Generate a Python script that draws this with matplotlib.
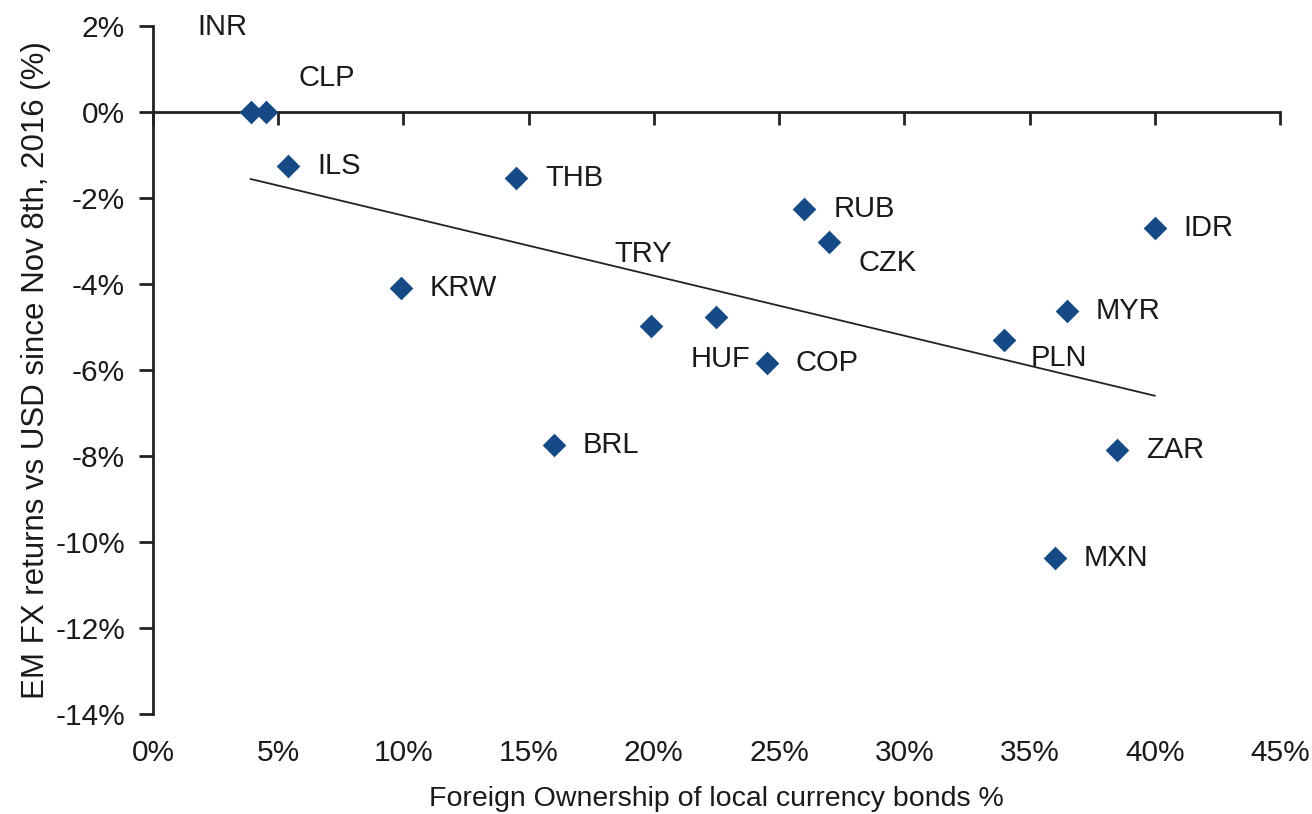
import numpy as np
import matplotlib
matplotlib.use("Agg")
import matplotlib.pyplot as plt

# data
currencies = ["INR", "CLP", "ILS", "THB", "KRW", "TRY", "HUF", "COP",
              "BRL", "RUB", "CZK", "PLN", "MYR", "IDR", "ZAR", "MXN"]
foreign_own = [3.9, 4.5, 5.4, 14.5, 9.9, 19.9, 22.5, 24.5,
               16.0, 26.0, 27.0, 34.0, 36.5, 40.0, 38.5, 36.0]
fx_return = [0.0, 0.0, -1.26, -1.54, -4.1, -4.97, -4.76, -5.83,
             -7.74, -2.26, -3.03, -5.31, -4.64, -2.70, -7.86, -10.37]
x_ticks = [0, 5, 10, 15, 20, 25, 30, 35, 40, 45]
y_ticks = [2, 0, -2, -4, -6, -8, -10, -12, -14]

# label offsets in pixels (default: right of the point)
label_off = {"INR": (-53, 85), "CLP": (33, 34), "TRY": (-37, 72),
             "HUF": (-26, -42), "CZK": (29, -21), "PLN": (26, -18)}

plt.rcParams["font.family"] = ["Liberation Sans", "DejaVu Sans"]
txt = "#1a1a1a"
blue = "#154a87"
fs = 21.5

fig = plt.figure(figsize=(13.12, 8.14), dpi=100)
ax = fig.add_axes([0.1166, 0.1229, 0.8590, 0.8452])

ax.scatter(foreign_own, fx_return, marker="D", s=145, color=blue, zorder=3, linewidths=0)

# linear trend line across the data range
k, b = np.polyfit(foreign_own, fx_return, 1)
xs = np.array([min(foreign_own), max(foreign_own)])
ax.plot(xs, k * xs + b, color="#222222", lw=1.3, zorder=2)

for name, x, y in zip(currencies, foreign_own, fx_return):
    dx, dy = label_off.get(name, (29, 0))
    ax.annotate(name, (x, y), xytext=(dx, dy), textcoords="offset pixels",
                ha="left", va="center", fontsize=21, color=txt)

ax.set_xlim(0, 45)
ax.set_ylim(-14, 2)
ax.spines["top"].set_visible(False)
ax.spines["right"].set_visible(False)
ax.spines["left"].set_color("#222222")
ax.spines["left"].set_linewidth(2)
ax.spines["bottom"].set_position(("data", 0))
ax.spines["bottom"].set_color("#222222")
ax.spines["bottom"].set_linewidth(2)

ax.set_yticks(y_ticks)
ax.set_yticklabels([f"{v}%" for v in y_ticks])
ax.tick_params(axis="y", direction="out", length=10, width=2, color="#222222",
               labelsize=fs, labelcolor=txt, pad=10)
ax.set_xticks(x_ticks)
ax.tick_params(axis="x", direction="out", length=9, width=2, color="#222222",
               labelbottom=False)

# x tick labels sit at the bottom of the plot
sec = ax.secondary_xaxis("bottom")
sec.set_xticks(x_ticks)
sec.set_xticklabels([f"{v}%" for v in x_ticks])
sec.spines["bottom"].set_visible(False)
sec.tick_params(length=0, labelsize=fs, labelcolor=txt, pad=18)
sec.set_xlabel("Foreign Ownership of local currency bonds %", fontsize=20.5,
               color=txt, labelpad=14)

ax.set_ylabel("EM FX returns vs USD since Nov 8th, 2016 (%)", fontsize=22.5,
              color=txt, labelpad=3)

fig.savefig("out.png", dpi=100)
